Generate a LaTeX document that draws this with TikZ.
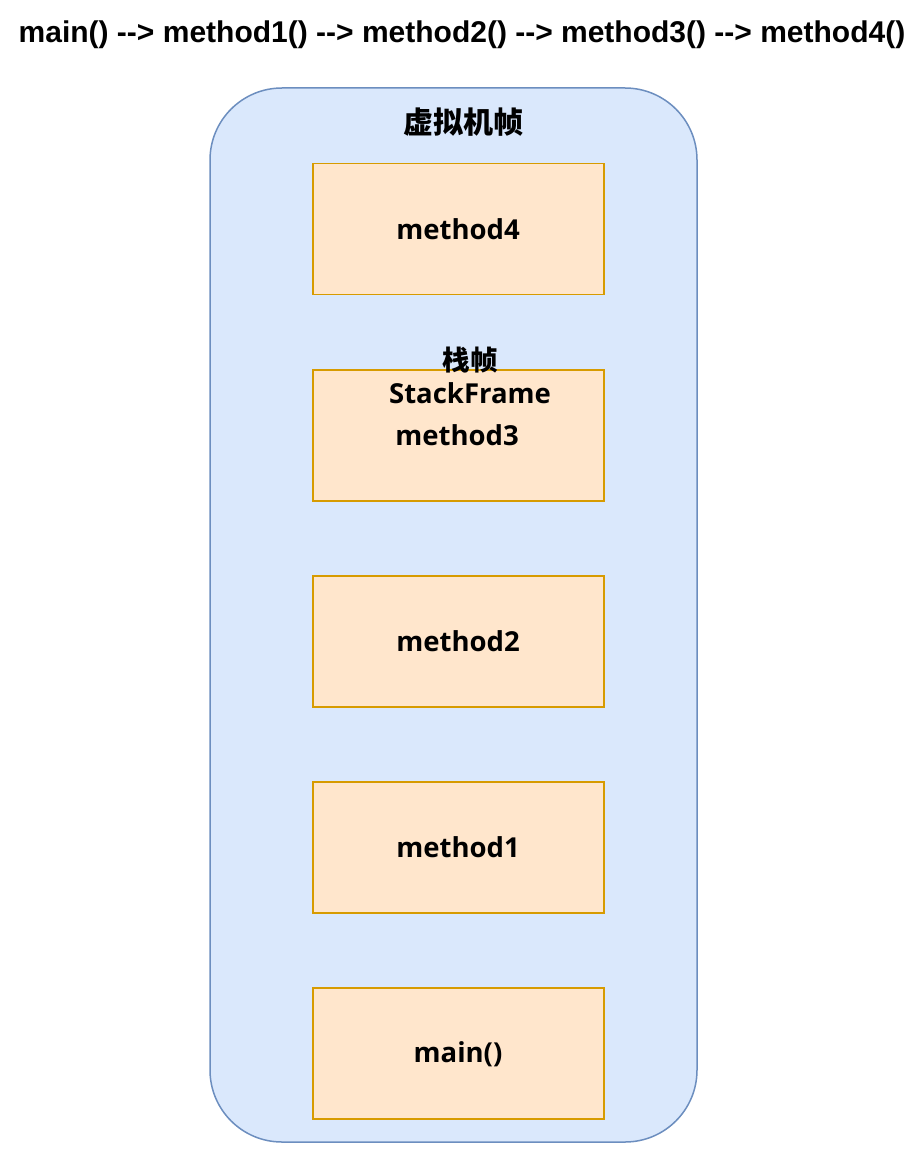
\documentclass[tikz,border=0pt]{standalone}
\usepackage{fontspec}
\setmainfont{Liberation Sans}
\newfontfamily\latinb{Open Sans}[BoldFont={* Bold}]
\newfontfamily\cjk{Noto Sans CJK SC}
\definecolor{outerfill}{HTML}{DAE8FC}
\definecolor{outerdraw}{HTML}{6C8EBF}
\definecolor{framefill}{HTML}{FFE6CC}
\definecolor{framedraw}{HTML}{D79B00}
\newcommand{\arrowtxt}{-\kern0pt-\kern0pt>}
\begin{document}
\begin{tikzpicture}[x=1pt,y=-1pt,
  vmframe/.style={draw=outerdraw,fill=outerfill,line width=1.5pt,rounded corners=72pt},
  stackbox/.style={draw=framedraw,fill=framefill,line width=1.6pt,minimum width=291pt,minimum height=131pt,inner sep=0pt,outer sep=0pt},
  boxtext/.style={font=\latinb\bfseries\fontsize{27.5}{31}\selectfont},
  cjktext/.style={font=\cjk\bfseries\fontsize{30}{34}\selectfont}]
\useasboundingbox (0,0) rectangle (918,1158);
\node[font=\bfseries\fontsize{30}{34}\selectfont,anchor=center] (title) at (462,35) {main() \arrowtxt{} method1() \arrowtxt{} method2() \arrowtxt{} method3() \arrowtxt{} method4()};
\draw[vmframe] (210,88) rectangle (697,1142);
\node[cjktext] (vm) at (463,122) {虚拟机帧};
\node[stackbox] (m4) at (458.5,229) {};
\node[stackbox] (m3) at (458.5,435.5) {};
\node[stackbox] (m2) at (458.5,641.5) {};
\node[stackbox] (m1) at (458.5,847.5) {};
\node[stackbox] (mn) at (458.5,1053.5) {};
\node[boxtext] (t4) at (458,229) {method4};
\node[boxtext] (t3) at (457,435) {method3};
\node[boxtext] (t2) at (458,641) {method2};
\node[boxtext] (t1) at (458,847) {method1};
\node[boxtext] (t0) at (458,1054) {main()};
\node[cjktext,font=\cjk\bfseries\fontsize{27.5}{31}\selectfont] (sf) at (470,360) {栈帧};
\node[boxtext] (sfe) at (470,393) {StackFrame};
\end{tikzpicture}
\end{document}
